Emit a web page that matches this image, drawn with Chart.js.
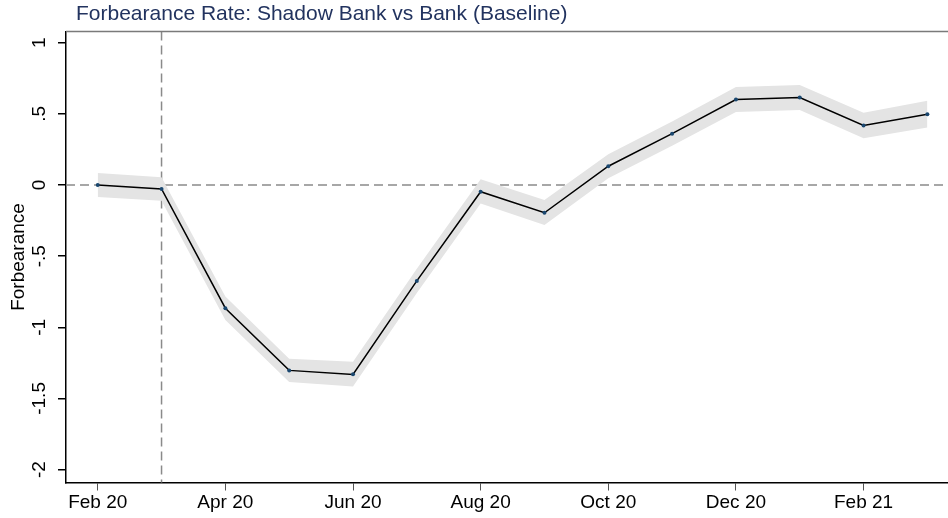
<!DOCTYPE html>
<html><head><meta charset="utf-8">
<script src="https://cdn.jsdelivr.net/npm/chart.js@4.4.1/dist/chart.umd.min.js"></script>
<style>html,body{margin:0;padding:0;background:#fff;overflow:hidden}canvas{display:block}</style>
</head><body>
<canvas id="c" width="948" height="518"></canvas>
<script>
// ---- data ----
const months = ['Feb 20','Mar 20','Apr 20','May 20','Jun 20','Jul 20','Aug 20','Sep 20','Oct 20','Nov 20','Dec 20','Jan 21','Feb 21','Mar 21'];
const estimate = [0.000,-0.028,-0.866,-1.303,-1.331,-0.674,-0.047,-0.195,0.132,0.361,0.601,0.615,0.418,0.498];
const ciLower  = [-0.085,-0.110,-0.949,-1.385,-1.416,-0.759,-0.130,-0.281,0.047,0.276,0.513,0.527,0.328,0.404];
const ciUpper  = [0.085,0.055,-0.783,-1.221,-1.243,-0.589,0.040,-0.105,0.217,0.446,0.689,0.703,0.508,0.592];
const xTickMonths = ['Feb 20','Apr 20','Jun 20','Aug 20','Oct 20','Dec 20','Feb 21'];
const yTicks = [1,0.5,0,-0.5,-1,-1.5,-2];
const eventMonth = 'Mar 20';
const titleText = 'Forbearance Rate: Shadow Bank vs Bank (Baseline)';
const yTitle = 'Forbearance';

const FAMILY = '"Liberation Sans", Arial, Helvetica, sans-serif';
const fmtStata = v => (v === 0 ? '0' : String(v).replace('0.', '.'));

const decor = {
  id: 'decor',
  beforeDatasetsDraw(chart) {
    const {ctx, chartArea: a, scales: {x, y}} = chart;
    ctx.save();
    ctx.strokeStyle = '#8a8a8a';
    ctx.lineWidth = 1.5;
    ctx.setLineDash([9, 5]);
    const y0 = y.getPixelForValue(0);
    ctx.beginPath(); ctx.moveTo(a.left, y0); ctx.lineTo(a.right, y0); ctx.stroke();
    const xe = x.getPixelForValue(months.indexOf(eventMonth));
    ctx.beginPath(); ctx.moveTo(xe, a.top); ctx.lineTo(xe, a.bottom); ctx.stroke();
    ctx.restore();
  },
  afterDraw(chart) {
    const {ctx, chartArea: a} = chart;
    ctx.save();
    ctx.strokeStyle = '#7a7a7a';
    ctx.lineWidth = 1.5;
    ctx.beginPath(); ctx.moveTo(a.left, a.top); ctx.lineTo(a.right, a.top); ctx.stroke();
    ctx.fillStyle = '#22335f';
    ctx.font = '21px ' + FAMILY;
    ctx.textBaseline = 'alphabetic';
    ctx.fillText(titleText, 76, 20);
    ctx.restore();
  }
};

new Chart(document.getElementById('c'), {
  type: 'line',
  data: {
    datasets: [
      {
        label: 'estimate',
        data: estimate.map((v, i) => ({x: i, y: v})),
        borderColor: '#000', borderWidth: 1.5, tension: 0, fill: false,
        pointRadius: 2, pointBackgroundColor: '#1a476f', pointBorderWidth: 0,
        order: 0
      },
      {
        label: 'upper',
        data: ciUpper.map((v, i) => ({x: i, y: v})),
        borderColor: 'rgba(0,0,0,0)', borderWidth: 0, pointRadius: 0, tension: 0,
        fill: '+1', backgroundColor: '#e4e4e4',
        order: 1
      },
      {
        label: 'lower',
        data: ciLower.map((v, i) => ({x: i, y: v})),
        borderColor: 'rgba(0,0,0,0)', borderWidth: 0, pointRadius: 0, tension: 0,
        fill: false,
        order: 2
      }
    ]
  },
  options: {
    responsive: false,
    animation: false,
    devicePixelRatio: 1,
    layout: {autoPadding: false, padding: {top: 31.5, left: 0, right: 0, bottom: 0}},
    plugins: {legend: {display: false}, tooltip: {enabled: false}, title: {display: false}},
    scales: {
      x: {
        type: 'linear',
        min: -0.497, max: 13.323,
        afterBuildTicks: s => { s.ticks = xTickMonths.map(m => ({value: months.indexOf(m)})); },
        afterFit: s => { s.height = 35.5; s.paddingLeft = 0; s.paddingRight = 0; },
        ticks: {
          callback: v => months[v],
          color: '#000', font: {size: 19, family: FAMILY},
          padding: 1, maxRotation: 0, minRotation: 0, autoSkip: false
        },
        grid: {drawOnChartArea: false, drawTicks: true, tickLength: 8, color: '#555', lineWidth: 1},
        border: {display: true, color: '#000', width: 1.5}
      },
      y: {
        type: 'linear',
        min: -2.091, max: 1.079,
        afterBuildTicks: s => { s.ticks = yTicks.map(v => ({value: v})); },
        afterFit: s => { s.width = 66; s.paddingTop = 0; s.paddingBottom = 0; },
        ticks: {
          callback: v => fmtStata(v),
          color: '#000', font: {size: 19, family: FAMILY},
          minRotation: 90, maxRotation: 90, crossAlign: 'center', padding: 2, autoSkip: false
        },
        grid: {drawOnChartArea: false, drawTicks: true, tickLength: 8, color: '#000', lineWidth: 1.5},
        border: {display: true, color: '#000', width: 1.5},
        title: {display: true, text: yTitle, color: '#000', font: {size: 19, family: FAMILY}, padding: {top: 7, bottom: 0}}
      }
    }
  },
  plugins: [decor]
});
</script>
</body></html>
